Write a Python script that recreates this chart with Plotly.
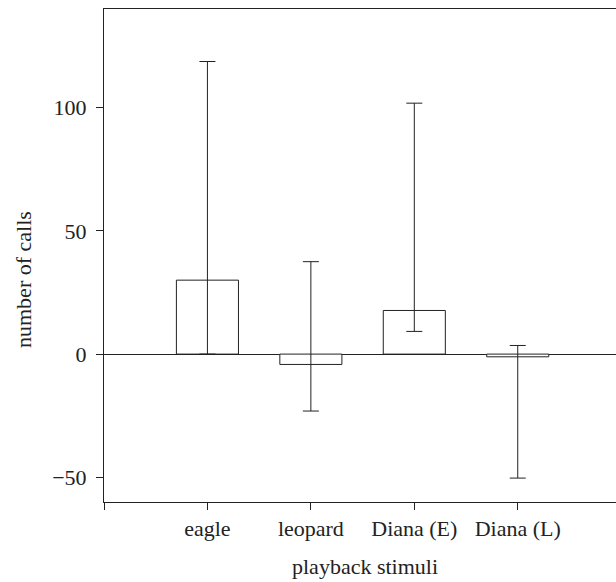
import plotly.graph_objects as go

categories = ["eagle", "leopard", "Diana (E)", "Diana (L)"]
means = [30.0, -4.2, 17.7, -1.1]
upper = [118.7, 37.5, 101.8, 3.5]
lower = [0.0, -23.1, 9.2, -50.3]
y_ticks = [-50, 0, 50, 100]

x_pos = list(range(len(categories)))
err_plus = [u - m for u, m in zip(upper, means)]
err_minus = [m - l for m, l in zip(means, lower)]

FONT = "Liberation Serif, Times New Roman, serif"
INK = "#222222"
FS = 22

fig = go.Figure()
fig.add_trace(go.Bar(
    x=x_pos, y=means, width=0.6,
    marker=dict(color="white", line=dict(color=INK, width=1)),
    error_y=dict(type="data", symmetric=False, array=err_plus, arrayminus=err_minus,
                 color=INK, thickness=1, width=8),
    showlegend=False,
))

fig.update_layout(
    width=616, height=582,
    margin=dict(l=104, r=0, t=9, b=80),
    paper_bgcolor="white", plot_bgcolor="white",
    font=dict(family=FONT, size=FS, color=INK),
    annotations=[
        dict(text="number of calls", xref="paper", yref="paper",
             x=(24 - 104) / 512, y=(502 - 280) / 493, textangle=-90,
             showarrow=False, xanchor="center", yanchor="middle",
             font=dict(family=FONT, size=FS, color=INK)),
        dict(text="playback stimuli", xref="paper", yref="paper",
             x=(365 - 104) / 512, y=-(566 - 502) / 493,
             showarrow=False, xanchor="center", yanchor="middle",
             font=dict(family=FONT, size=FS, color=INK)),
    ],
)
fig.update_xaxes(
    range=[-1, 3.95], tickvals=[-1] + x_pos, ticktext=[""] + categories,
    showgrid=False, zeroline=False, showline=True, linecolor=INK, linewidth=1,
    mirror=True, ticks="outside", ticklen=7, tickcolor=INK, tickwidth=1,
)
fig.update_yaxes(
    range=[-60, 140], tickvals=y_ticks, ticktext=["\u221250", "0", "50", "100"],
    showgrid=False, zeroline=True, zerolinecolor=INK, zerolinewidth=1,
    showline=True, linecolor=INK, linewidth=1,
    ticks="outside", ticklen=7, tickcolor=INK, tickwidth=1,
    ticklabelstandoff=5,
)

fig.write_html(
    "out.html",
    config={"displayModeBar": False},
    post_script="document.body.style.margin='0';document.body.style.overflow='hidden';",
)
